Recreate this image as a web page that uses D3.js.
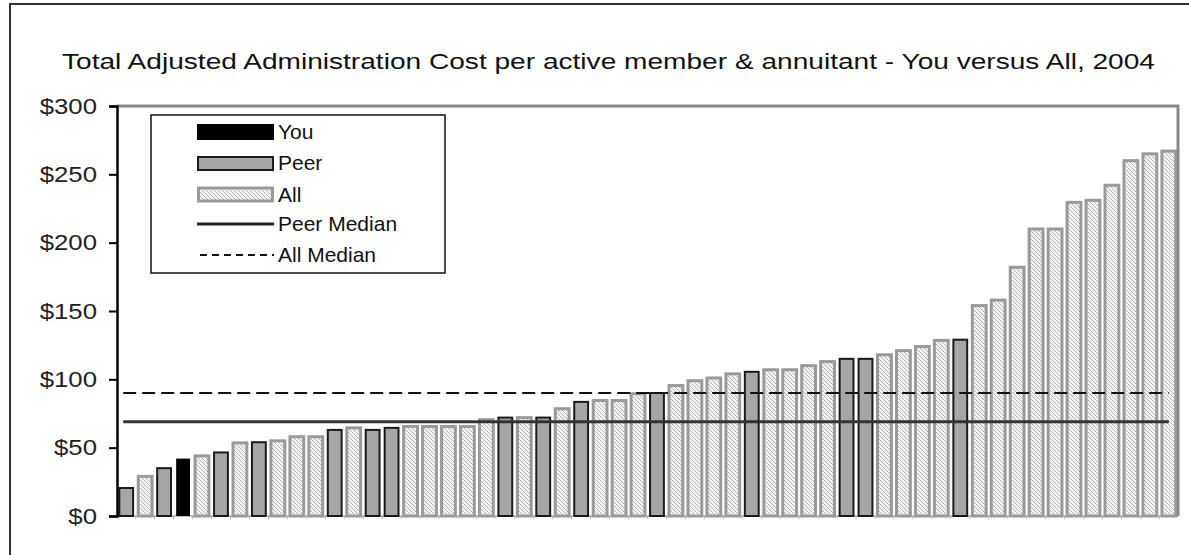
<!DOCTYPE html>
<html>
<head>
<meta charset="utf-8">
<script src="https://cdn.jsdelivr.net/npm/d3@7/dist/d3.min.js"></script>
<style>
  html, body { margin: 0; padding: 0; background: #fff; }
  svg { display: block; font-family: "Liberation Sans", Arial, sans-serif; }
</style>
</head>
<body>
<svg id="chart" width="1189" height="555"></svg>
<script>
// Plan participants, sorted by cost
const categories = d3.range(1, 57).map(i => "P" + i);

// Total adjusted administration cost per active member & annuitant ($)
const costs = [
  20.5, 29, 35, 42, 44, 46.5, 53.5, 54, 55, 58,
  58, 63, 64.5, 63, 64.5, 65.5, 65.5, 65.5, 65.5, 70.5,
  72, 72, 72, 78.5, 83.5, 84.5, 84.5, 89.5, 90, 95.5,
  99, 101, 104, 105.5, 107, 107, 110, 113, 115, 115,
  118, 121, 124, 128.5, 129, 154, 158, 182, 210, 210,
  229.5, 231, 242, 260, 265, 267
];

// Group of each participant
const groups = [
  "Peer", "All", "Peer", "You", "All", "Peer", "All", "Peer", "All", "All",
  "All", "Peer", "All", "Peer", "Peer", "All", "All", "All", "All", "All",
  "Peer", "All", "Peer", "All", "Peer", "All", "All", "All", "Peer", "All",
  "All", "All", "All", "Peer", "All", "All", "All", "All", "Peer", "Peer",
  "All", "All", "All", "All", "Peer", "All", "All", "All", "All", "All",
  "All", "All", "All", "All", "All", "All"
];

const peerMedian = 69;
const allMedian = 90;

const yTicks = [0, 50, 100, 150, 200, 250, 300];
const yTickLabels = ["$0", "$50", "$100", "$150", "$200", "$250", "$300"];

const legendLabels = ["You", "Peer", "All", "Peer Median", "All Median"];

const titleText = "Total Adjusted Administration Cost per active member & annuitant - You versus All, 2004";

const svg = d3.select("#chart");

// hatch pattern for the "All" bars
const defs = svg.append("defs");
const pat = defs.append("pattern")
  .attr("id", "hatch")
  .attr("patternUnits", "userSpaceOnUse")
  .attr("width", 4).attr("height", 4);
pat.append("rect").attr("width", 4).attr("height", 4).attr("fill", "#f3f3f3");
pat.append("path").attr("d", "M-1,-1 L5,5 M3,-1 L5,1 M-1,3 L1,5")
  .attr("stroke", "#b4b4b4").attr("stroke-width", 1);

// outer frame
svg.append("rect")
  .attr("x", 10).attr("y", 4).attr("width", 1300).attr("height", 700)
  .attr("fill", "#fff").attr("stroke", "#333").attr("stroke-width", 2);

const plot = { left: 117, right: 1178, top: 106, bottom: 516 };

const x = d3.scaleBand()
  .domain(categories)
  .range([plot.left, plot.right])
  .paddingInner(0.27)
  .paddingOuter(0.12);

const y = d3.scaleLinear().domain([0, 300]).range([plot.bottom, plot.top]);

// title
svg.append("text")
  .attr("x", 608.5).attr("y", 68.5)
  .attr("text-anchor", "middle")
  .attr("font-size", 22)
  .attr("fill", "#111")
  .attr("textLength", 1093)
  .attr("lengthAdjust", "spacingAndGlyphs")
  .text(titleText);

// x baseline with small separators between categories
svg.append("line")
  .attr("x1", plot.left).attr("x2", plot.right)
  .attr("y1", plot.bottom).attr("y2", plot.bottom)
  .attr("stroke", "#aaa").attr("stroke-width", 1.5);
svg.append("g").selectAll("line")
  .data(categories.slice(1))
  .join("line")
  .attr("x1", d => x(d) - x.step() * x.paddingInner() / 2)
  .attr("x2", d => x(d) - x.step() * x.paddingInner() / 2)
  .attr("y1", plot.bottom).attr("y2", plot.bottom + 3)
  .attr("stroke", "#aaa").attr("stroke-width", 1);

// bars
const data = categories.map((c, i) => ({ c, v: costs[i], g: groups[i] }));
const style = {
  You:  { fill: "#000", stroke: "#000", sw: 0 },
  Peer: { fill: "#a6a6a6", stroke: "#1a1a1a", sw: 2 },
  All:  { fill: "url(#hatch)", stroke: "#9a9a9a", sw: 3 }
};
svg.append("g").selectAll("rect")
  .data(data)
  .join("rect")
  .attr("x", d => x(d.c))
  .attr("y", d => y(d.v))
  .attr("width", x.bandwidth())
  .attr("height", d => y(0) - y(d.v))
  .attr("fill", d => style[d.g].fill)
  .attr("stroke", d => style[d.g].sw ? style[d.g].stroke : "none")
  .attr("stroke-width", d => style[d.g].sw);

// plot area border (top and right)
svg.append("path")
  .attr("d", `M${plot.left},${plot.top} H${plot.right} V${plot.bottom}`)
  .attr("fill", "none").attr("stroke", "#8a8a8a").attr("stroke-width", 3);

// median lines
const firstX = x(categories[0]) + x.bandwidth() / 2 - 3;
const lastX = x(categories[categories.length - 1]) + x.bandwidth() / 2;
svg.append("line")
  .attr("x1", firstX).attr("x2", lastX)
  .attr("y1", y(allMedian)).attr("y2", y(allMedian))
  .attr("stroke", "#111").attr("stroke-width", 2)
  .attr("stroke-dasharray", "13,6");
svg.append("line")
  .attr("x1", firstX).attr("x2", lastX)
  .attr("y1", y(peerMedian)).attr("y2", y(peerMedian))
  .attr("stroke", "#333").attr("stroke-width", 3);

// y axis
const yAxis = svg.append("g").attr("transform", `translate(${plot.left},0)`)
  .call(d3.axisLeft(y).tickValues(yTicks).tickSize(8).tickFormat((d, i) => yTickLabels[i]));
yAxis.select(".domain").attr("stroke", "#000").attr("stroke-width", 2.5);
yAxis.selectAll(".tick line").attr("stroke", "#000").attr("stroke-width", 2);
yAxis.selectAll(".tick text")
  .attr("font-size", 22)
  .attr("fill", "#222")
  .attr("x", -20)
  .attr("font-family", "'Liberation Sans', Arial, sans-serif")
  .each(function () {
    const w = this.getComputedTextLength();
    d3.select(this).attr("textLength", w * 1.17).attr("lengthAdjust", "spacingAndGlyphs");
  });

// legend
const lg = svg.append("g");
lg.append("rect")
  .attr("x", 151).attr("y", 115).attr("width", 294).attr("height", 158)
  .attr("fill", "#fff").attr("stroke", "#111").attr("stroke-width", 1.5);

const rowY = [132, 163, 195, 224, 255];
const swX = 197, swW = 77;
lg.append("rect").attr("x", swX).attr("y", 124).attr("width", swW).attr("height", 16)
  .attr("fill", "#000");
lg.append("rect").attr("x", swX + 1).attr("y", 157).attr("width", swW - 2).attr("height", 13)
  .attr("fill", "#a6a6a6").attr("stroke", "#1a1a1a").attr("stroke-width", 2);
lg.append("rect").attr("x", swX + 1.5).attr("y", 188).attr("width", swW - 3).attr("height", 13)
  .attr("fill", "url(#hatch)").attr("stroke", "#9a9a9a").attr("stroke-width", 3);
lg.append("line").attr("x1", swX).attr("x2", swX + swW).attr("y1", rowY[3]).attr("y2", rowY[3])
  .attr("stroke", "#222").attr("stroke-width", 3);
lg.append("line").attr("x1", swX + 3).attr("x2", swX + swW).attr("y1", rowY[4]).attr("y2", rowY[4])
  .attr("stroke", "#111").attr("stroke-width", 2).attr("stroke-dasharray", "7,5");

lg.selectAll("text.lab")
  .data(legendLabels)
  .join("text")
  .attr("class", "lab")
  .attr("x", 278)
  .attr("y", (d, i) => rowY[i])
  .attr("dy", "0.35em")
  .attr("font-size", 21)
  .attr("fill", "#111")
  .text(d => d);
</script>
</body>
</html>
